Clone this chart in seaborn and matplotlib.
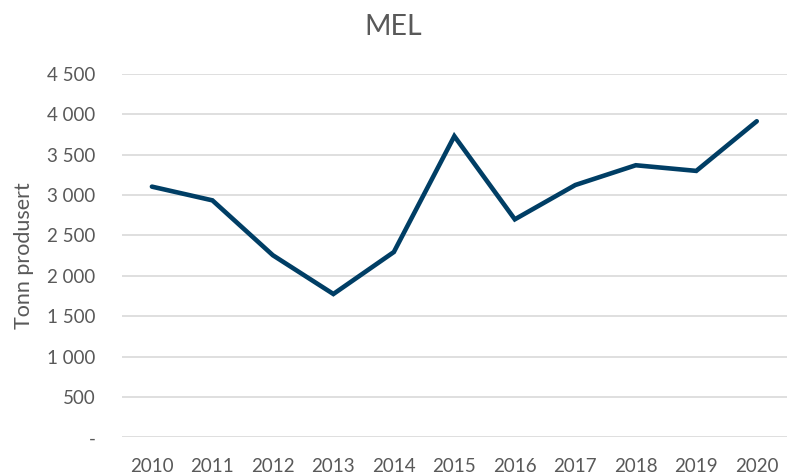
import matplotlib
matplotlib.use('Agg')
import matplotlib.pyplot as plt
import matplotlib.ticker as mticker
import seaborn as sns

# MEL production, tonnes per year
years = [2010, 2011, 2012, 2013, 2014, 2015, 2016, 2017, 2018, 2019, 2020]
tonn = [3105, 2935, 2255, 1775, 2295, 3730, 2700, 3125, 3370, 3300, 3915]
y_ticks = [0, 500, 1000, 1500, 2000, 2500, 3000, 3500, 4000, 4500]

LINE = '#003e65'
TEXT = '#595959'
GRID = '#d9d9d9'

sns.set_theme(style='white')
plt.rcParams['font.family'] = ['Lato', 'DejaVu Sans']


def fmt_tonn(v, pos=None):
    # Excel style: space as thousands separator, dash for zero
    if v == 0:
        return '-'
    return f'{int(v):,}'.replace(',', ' ')


fig = plt.figure(figsize=(7.87, 4.76), dpi=100)
ax = fig.add_axes([0.1546, 0.0813, 0.8454, 0.7632])

sns.lineplot(x=years, y=tonn, ax=ax, color=LINE, linewidth=3.3,
             solid_capstyle='round', solid_joinstyle='miter')

ax.set_xlim(years[0] - 0.5, years[-1] + 0.5)
ax.set_ylim(0, 4500)
ax.set_xticks(years)
ax.set_yticks(y_ticks)
ax.yaxis.set_major_formatter(mticker.FuncFormatter(fmt_tonn))

ax.grid(axis='y', color=GRID, linewidth=1.2)
ax.set_axisbelow(True)
for s in ax.spines.values():
    s.set_visible(False)

ax.tick_params(axis='x', length=0, pad=15, labelsize=13.5, labelcolor=TEXT)
ax.tick_params(axis='y', length=0, pad=19, labelsize=13.5, labelcolor=TEXT)
ax.set_ylabel('Tonn produsert', fontsize=15.5, color=TEXT, labelpad=9)
ax.set_xlabel('')

fig.text(0.5, 0.9265, 'MEL', ha='center', va='baseline', fontsize=20.5, color=TEXT)

fig.savefig('out.png', dpi=100)
plt.close(fig)
